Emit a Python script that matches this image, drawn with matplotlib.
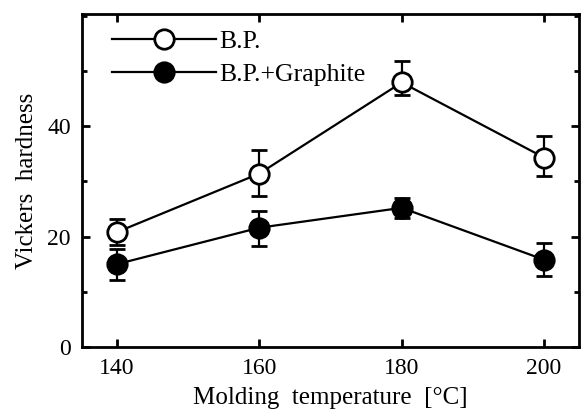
import matplotlib
matplotlib.use("Agg")
import matplotlib.pyplot as plt
import numpy as np
from matplotlib.ticker import MultipleLocator
from matplotlib.lines import Line2D

temps = [140, 160, 180, 200]
bp = [20.8, 31.4, 47.9, 34.3]
bp_err_low = [2.3, 4.0, 2.2, 3.3]
bp_err_high = [2.3, 4.2, 3.9, 3.9]
gr = [15.0, 21.6, 25.2, 15.8]
gr_err_low = [2.9, 3.4, 1.8, 2.9]
gr_err_high = [2.7, 3.1, 1.8, 3.1]
xticks = [140, 160, 180, 200]
yticks = [0, 20, 40]
labels = ["B.P.", "B.P.+Graphite"]

plt.rcParams['font.family'] = ['Liberation Serif', 'DejaVu Serif']

fig = plt.figure(figsize=(5.81, 4.09), dpi=100)
ax = fig.add_axes([82/581, 1-347/409, 497/581, 333/409])

ms = 14
ax.errorbar(temps, bp, yerr=[bp_err_low, bp_err_high], fmt='-o', color='black',
            mfc='white', mec='black', mew=2, ms=ms, lw=1.6, elinewidth=1.6,
            capsize=6, capthick=2.4, zorder=3)
ax.errorbar(temps, gr, yerr=[gr_err_low, gr_err_high], fmt='-o', color='black',
            mfc='black', mec='black', mew=2, ms=ms, lw=1.6, elinewidth=1.6,
            capsize=6, capthick=2.4, zorder=3)

ax.set_xlim(135.1, 204.9)
ax.set_ylim(0, 60.3)
ax.set_xticks(xticks)
ax.set_yticks(yticks)
ax.yaxis.set_minor_locator(MultipleLocator(10))
ax.tick_params(which='both', direction='in', top=True, right=True, labelsize=17)
ax.tick_params(which='major', length=6, width=2, pad=8)
ax.tick_params(which='minor', length=3.5, width=2)
ax.tick_params(axis='x', which='minor', top=False, bottom=False)
for s in ax.spines.values():
    s.set_linewidth(2)

ax.set_xlabel("Molding  temperature  [°C]", fontsize=18, labelpad=6)
ax.set_ylabel("Vickers  hardness", fontsize=18, labelpad=7)

handles = [
    Line2D([], [], color='black', marker='o', mfc='white', mec='black', mew=2, ms=ms, lw=1.6),
    Line2D([], [], color='black', marker='o', mfc='black', mec='black', mew=2, ms=ms, lw=1.6),
]
ax.legend(handles, labels, loc='upper left', bbox_to_anchor=(0.06, 0.952),
          frameon=False, fontsize=18.5, handlelength=4.05, handletextpad=0.12,
          labelspacing=0.38, borderaxespad=0, borderpad=0)

fig.savefig("out.png", dpi=100)
